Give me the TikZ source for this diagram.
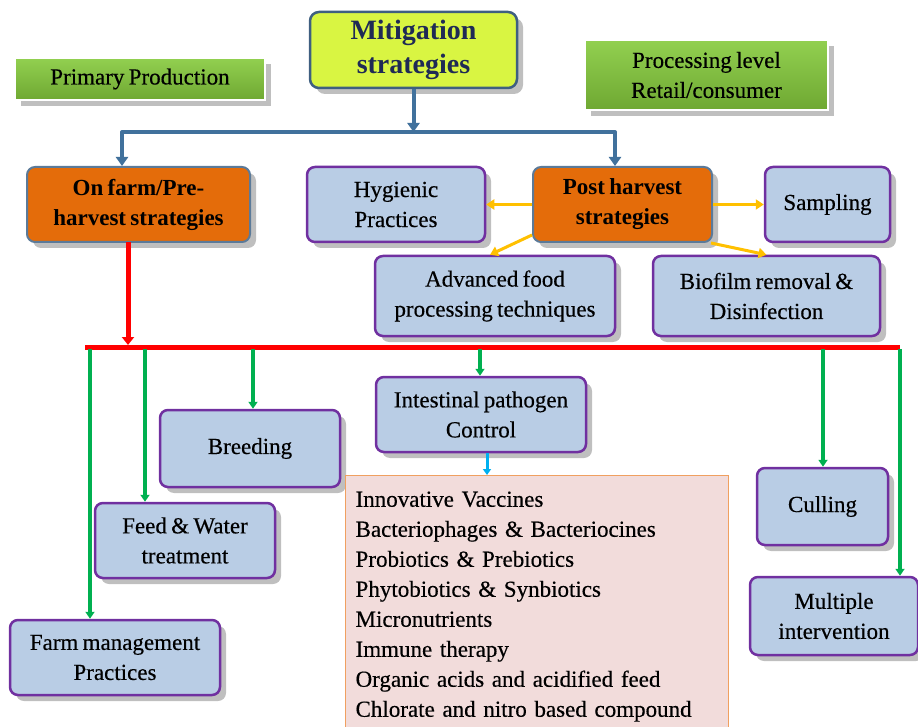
\documentclass[tikz,border=0pt]{standalone}
\usepackage{fontspec}
\setmainfont{Liberation Serif}[WordSpace=0.75]
\newfontfamily\heavyserif{Liberation Serif}[FakeBold=0.4, WordSpace=0.75]
\usetikzlibrary{arrows.meta,positioning,calc,shadows}

\definecolor{leafgreen}{HTML}{92D050}
\definecolor{darkleaf}{HTML}{6FA832}
\definecolor{limefill}{HTML}{D9F542}
\definecolor{slateline}{HTML}{3F5F80}
\definecolor{navytext}{HTML}{1F2A55}
\definecolor{orangefill}{HTML}{E46C0A}
\definecolor{greyblue}{HTML}{5B7A99}
\definecolor{paleblue}{HTML}{B9CDE5}
\definecolor{purpleline}{HTML}{7030A0}
\definecolor{pinkfill}{HTML}{F2DCDB}
\definecolor{peachline}{HTML}{F0A060}
\definecolor{steelblue}{HTML}{41719C}
\definecolor{arrowgreen}{HTML}{00B050}
\definecolor{goldline}{HTML}{FFC000}
\definecolor{skyline}{HTML}{00B0F0}

\begin{document}
\begin{tikzpicture}[
    x=1pt, y=-1pt,
    every node/.style={font=\heavyserif\fontsize{23}{30}\selectfont, align=center, inner sep=4pt},
    shade/.style={drop shadow={shadow xshift=6pt, shadow yshift=-6pt, fill=black, opacity=0.25}},
    levelbox/.style={shade, top color=leafgreen, bottom color=darkleaf, draw=white, line width=1.5pt},
    headbox/.style={shade, draw=slateline, line width=2.5pt, rounded corners=9pt, fill=limefill,
      font=\rmfamily\fontsize{28}{34}\selectfont\bfseries, text=navytext},
    orangebox/.style={shade, draw=greyblue, line width=2pt, rounded corners=8pt, fill=orangefill,
      font=\rmfamily\fontsize{23}{30}\selectfont\bfseries},
    bluebox/.style={shade, draw=purpleline, line width=2.5pt, rounded corners=8pt, fill=paleblue},
    listbox/.style={draw=peachline, line width=1.2pt, fill=pinkfill, align=left, inner xsep=10pt},
    bluewire/.style={steelblue, line width=4pt},
    redwire/.style={red, line width=5pt},
    greenwire/.style={arrowgreen, line width=3.5pt, -{Triangle[length=7pt,width=9pt]}},
    goldwire/.style={goldline, line width=3pt, -{Triangle[length=8pt,width=10pt]}},
    bluetip/.style={-{Triangle[length=9pt,width=12pt]}}
  ]
  \useasboundingbox[fill=white] (0,0) rectangle (918,727);

  % top level
  \node[headbox, minimum width=207, minimum height=76] (mit) at (413.5,50) {Mitigation\\strategies};
  \node[levelbox, minimum width=250, minimum height=42] (prim) at (140,79) {Primary Production};
  \node[levelbox, minimum width=243, minimum height=70] (proc) at (706.5,75) {Processing level\\Retail/consumer};

  % second level
  \node[orangebox, minimum width=223, minimum height=75] (onfarm) at (138.5,204.5) {On farm/Pre-\\harvest strategies};
  \node[orangebox, minimum width=179, minimum height=75] (post) at (622.5,204.5) {Post harvest\\strategies};
  \node[bluebox, minimum width=178, minimum height=75] (hyg) at (396,204.5) {Hygienic\\Practices};
  \node[bluebox, minimum width=125, minimum height=75] (samp) at (827.5,204.5) {Sampling};
  \node[bluebox, minimum width=240, minimum height=80] (adv) at (495,296) {Advanced food\\processing techniques};
  \node[bluebox, minimum width=227, minimum height=80] (bio) at (766.5,296) {Biofilm removal \&\\Disinfection};

  % pre-harvest measures
  \node[bluebox, minimum width=180, minimum height=77] (breed) at (250,448.5) {Breeding};
  \node[bluebox, minimum width=210, minimum height=75] (intest) at (481,414.5) {Intestinal pathogen\\Control};
  \node[bluebox, minimum width=180, minimum height=75] (feed) at (185,540.5) {Feed \& Water\\treatment};
  \node[bluebox, minimum width=210, minimum height=75] (farm) at (115,657.5) {Farm management\\Practices};
  \node[bluebox, minimum width=131, minimum height=77] (cull) at (822.5,506.5) {Culling};
  \node[bluebox, minimum width=168, minimum height=78] (mult) at (834,616) {Multiple\\intervention};
  \node[listbox, anchor=north west, minimum width=383, minimum height=262, text width=363] (list) at (345,475)
    {Innovative Vaccines\\
     Bacteriophages \& Bacteriocines\\
     Probiotics \& Prebiotics\\
     Phytobiotics \& Synbiotics\\
     Micronutrients\\
     Immune therapy\\
     Organic acids and acidified feed\\
     Chlorate and nitro based compound};

  % blue split
  \coordinate (bmid) at (mit.south |- 0,132);
  \coordinate (bl) at (122,132);
  \coordinate (br) at (615,132);
  \draw[bluewire, bluetip] (mit.south) -- (bmid);
  \draw[bluewire, line cap=round] (bl) -- (br);
  \draw[bluewire, bluetip] (bl) -- (bl |- onfarm.north);
  \draw[bluewire, bluetip] (br) -- (br |- post.north);

  % post harvest
  \draw[goldwire] (post.west) -- (hyg.east);
  \draw[goldwire] (post.east) -- (samp.west);
  \draw[goldwire] ([yshift=8pt]post.south west) -- ([xshift=-5pt]adv.north);
  \draw[goldwire] ([xshift=-2pt]post.south east) -- (bio.north);

  % red bar
  \coordinate (rtop) at (128,242);
  \coordinate (rl) at (85,347);
  \coordinate (rr) at (900,347);
  \draw[redwire, -{Triangle[length=8pt,width=12pt]}] (rtop) -- (rtop |- 0,345);
  \draw[redwire] (rl) -- (rr);

  % green drops
  \coordinate (g1) at (90,349);
  \coordinate (g2) at (145,349);
  \coordinate (g3) at (253,349);
  \coordinate (g4) at (480,349);
  \coordinate (g5) at (823,349);
  \coordinate (g6) at (900,349);
  \draw[greenwire] (g1) -- (g1 |- farm.north);
  \draw[greenwire] (g2) -- (g2 |- feed.north);
  \draw[greenwire] (g3) -- (g3 |- breed.north);
  \draw[greenwire] (g4) -- (g4 |- intest.north);
  \draw[greenwire] (g5) -- (g5 |- cull.north);
  \draw[greenwire] (g6) -- (g6 |- mult.north);

  \draw[skyline, line width=3pt, -{Triangle[length=6pt,width=8pt]}] ([xshift=6pt]intest.south) -- ([xshift=6pt]intest.south |- list.north);
\end{tikzpicture}
\end{document}
